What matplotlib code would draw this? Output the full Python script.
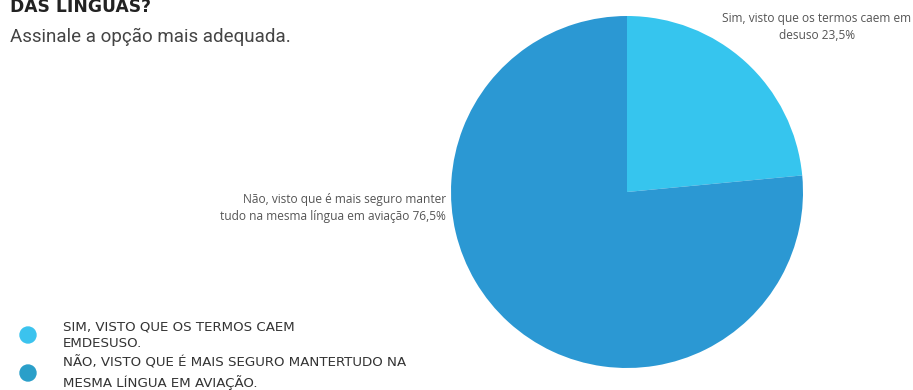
import matplotlib
matplotlib.use("Agg")
import matplotlib.pyplot as plt
from matplotlib.patches import Ellipse

# respostas e percentagens
respostas = ["Sim, visto que os termos caem em\ndesuso",
             "Não, visto que é mais seguro manter\ntudo na mesma língua em aviação"]
legenda = ["SIM, VISTO QUE OS TERMOS CAEM\nEMDESUSO.",
           "NÃO, VISTO QUE É MAIS SEGURO MANTERTUDO NA\nMESMA LÍNGUA EM AVIAÇÃO."]
percent = [23.5, 76.5]
cores = ["#36C5EE", "#2B98D3"]
cores_leg = ["#3BC3EE", "#2A9FC9"]

W, H = 913, 390
fig = plt.figure(figsize=(W / 100, H / 100), dpi=100)
fig.patch.set_facecolor("white")

# pizza: centro (627, 192), raio 176 px
cx, cy, r = 627, 192, 176
ax = fig.add_axes([(cx - r) / W, 1 - (cy + r) / H, 2 * r / W, 2 * r / H])
ax.pie(percent, colors=cores, startangle=90, counterclock=False,
       wedgeprops=dict(linewidth=0), radius=1)
ax.set_xlim(-1, 1)
ax.set_ylim(-1, 1)
ax.set_aspect("equal")
ax.axis("off")

def fmt(p):
    return f"{p:.1f}%".replace(".", ",")

lab_font = "Open Sans"
fig.text(446 / W, 1 - 208 / H, f"{respostas[1]} {fmt(percent[1])}",
         ha="right", va="center", fontsize=8.6, color="#555555",
         family=lab_font, linespacing=1.35)
fig.text(817 / W, 1 - 27 / H, f"{respostas[0]} {fmt(percent[0])}",
         ha="center", va="center", fontsize=8.6, color="#555555",
         family=lab_font, linespacing=1.35)

# titulos
fig.text(10 / W, 1 - 12 / H, "DAS LÍNGUAS?", ha="left", va="baseline",
         fontsize=12.3, fontweight="bold", color="#222222", family="DejaVu Sans")
fig.text(10 / W, 1 - 42 / H, "Assinale a opção mais adequada.", ha="left",
         va="baseline", fontsize=13.5, color="#444444", family="Roboto")

# legenda
ys = [335, 373]
for txt, c, y in zip(legenda, cores_leg, ys):
    fig.patches.append(Ellipse((28 / W, 1 - y / H), 16 / W, 16 / H, color=c,
                               transform=fig.transFigure, figure=fig))
    fig.text(63 / W, 1 - y / H, txt, ha="left", va="center", fontsize=9.6,
             color="#333333", family="DejaVu Sans", linespacing=1.4)

fig.savefig("out.png", dpi=100)
